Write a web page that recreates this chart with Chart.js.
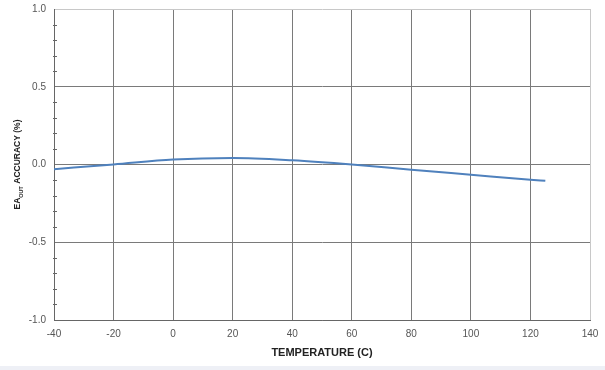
<!DOCTYPE html>
<html>
<head>
<meta charset="utf-8">
<script src="https://cdn.jsdelivr.net/npm/chart.js@4"></script>
<style>
html,body{margin:0;padding:0;background:#fff;}
#wrap{width:605px;height:370px;position:relative;}
#bar{position:absolute;left:0;top:366px;width:605px;height:4px;background:#eef0f6;}
</style>
</head>
<body>
<div id="wrap"><canvas id="c" width="605" height="366"></canvas><div id="bar"></div></div>
<script>
const temperatures = [-40, -20, 0, 20, 40, 60, 80, 100, 120, 125];
const accuracy = [-0.03, 0.0, 0.032, 0.042, 0.027, 0.0, -0.034, -0.066, -0.098, -0.105];
const xTicks = [-40, -20, 0, 20, 40, 60, 80, 100, 120, 140];
const yTicks = [-1.0, -0.5, 0.0, 0.5, 1.0];
const xTitle = 'TEMPERATURE (C)';
const yTitleParts = ['EA', 'OUT', ' ACCURACY (%)'];

const extras = {
  id: 'extras',
  afterDraw(chart) {
    const ctx = chart.ctx;
    const y = chart.scales.y;
    const area = chart.chartArea;
    ctx.save();
    ctx.strokeStyle = '#666';
    ctx.lineWidth = 1;
    for (let v = -10; v <= 10; v++) {
      if (v % 5 === 0) continue;
      const py = Math.round(y.getPixelForValue(v / 10)) + 0.5;
      ctx.beginPath();
      ctx.moveTo(area.left - 1, py);
      ctx.lineTo(area.left + 3, py);
      ctx.stroke();
    }
    ctx.translate(18, (area.top + area.bottom) / 2);
    ctx.rotate(-Math.PI / 2);
    ctx.fillStyle = '#222';
    const big = 'bold 8.5px "Liberation Sans", Arial, sans-serif';
    const small = 'bold 5.5px "Liberation Sans", Arial, sans-serif';
    ctx.font = big;
    const w0 = ctx.measureText(yTitleParts[0]).width;
    const w2 = ctx.measureText(yTitleParts[2]).width;
    ctx.font = small;
    const w1 = ctx.measureText(yTitleParts[1]).width;
    let sx = -(w0 + w1 + w2) / 2;
    ctx.textBaseline = 'middle';
    ctx.textAlign = 'left';
    ctx.font = big;
    ctx.fillText(yTitleParts[0], sx, 0);
    sx += w0;
    ctx.font = small;
    ctx.fillText(yTitleParts[1], sx, 3);
    sx += w1;
    ctx.font = big;
    ctx.fillText(yTitleParts[2], sx, 0);
    ctx.restore();
  }
};

new Chart(document.getElementById('c'), {
  type: 'line',
  data: {
    datasets: [{
      data: temperatures.map((t, i) => ({x: t, y: accuracy[i]})),
      borderColor: '#4f81bd',
      borderWidth: 2,
      pointRadius: 0,
      cubicInterpolationMode: 'monotone',
      fill: false
    }]
  },
  options: {
    responsive: false,
    animation: false,
    devicePixelRatio: 1,
    layout: {padding: {top: 9, right: 15, left: 0, bottom: 0}, autoPadding: false},
    plugins: {legend: {display: false}, tooltip: {enabled: false}},
    scales: {
      x: {
        type: 'linear', min: -40, max: 140,
        afterBuildTicks(s) { s.ticks = xTicks.map(v => ({value: v})); },
        afterFit(s) { s.height = 46; s.paddingLeft = 0; s.paddingRight = 0; },
        grid: {
          color: ctx => (ctx.tick && ctx.tick.value === 140) ? '#c8c8c8' : '#7a7a7a',
          lineWidth: 1, drawTicks: false
        },
        border: {color: '#666', width: 1},
        ticks: {
          padding: 8, color: '#555',
          font: {family: '"Liberation Sans", Arial, sans-serif', size: 10},
          callback: v => String(v), maxRotation: 0, autoSkip: false
        },
        title: {
          display: true, text: xTitle, color: '#222', padding: {top: 0, bottom: 6},
          font: {family: '"Liberation Sans", Arial, sans-serif', size: 11, weight: 'bold'}
        }
      },
      y: {
        type: 'linear', min: -1, max: 1,
        afterBuildTicks(s) { s.ticks = yTicks.map(v => ({value: v})); },
        afterFit(s) { s.width = 54; s.paddingTop = 0; s.paddingBottom = 0; },
        grid: {
          color: ctx => (ctx.tick && ctx.tick.value === 1) ? '#c8c8c8' : '#7a7a7a',
          lineWidth: 1, drawTicks: false
        },
        border: {color: '#666', width: 1},
        ticks: {
          padding: 8, color: '#555',
          font: {family: '"Liberation Sans", Arial, sans-serif', size: 10},
          callback: v => v.toFixed(1)
        }
      }
    }
  },
  plugins: [extras]
});
</script>
</body>
</html>
